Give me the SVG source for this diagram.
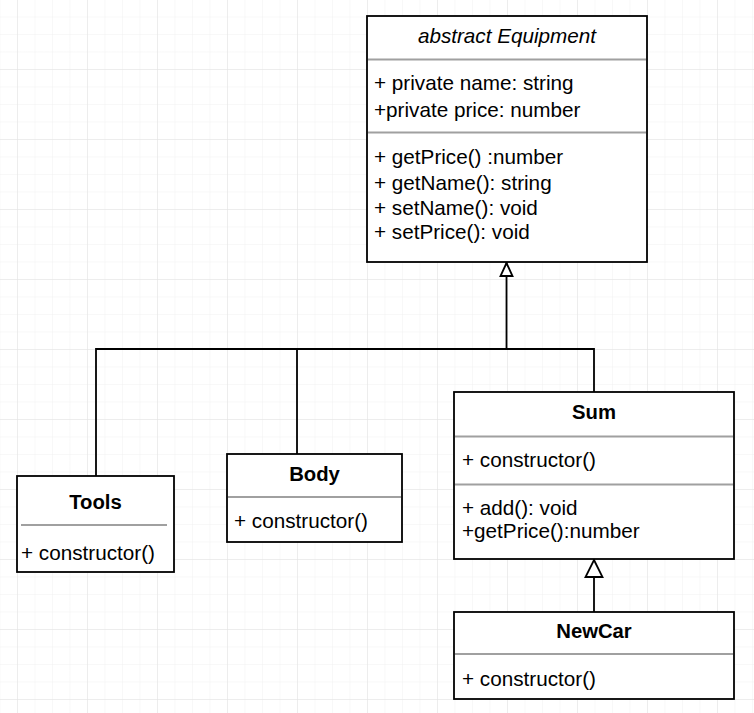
<svg xmlns="http://www.w3.org/2000/svg" width="754" height="713" viewBox="0 0 754 713">
  <defs>
    <pattern id="minor" patternUnits="userSpaceOnUse" x="17" y="-1" width="17.5" height="17.5">
      <path d="M0 0V17.5M0 0H17.5" fill="none" stroke="#f1f1f1" stroke-width="1"/>
    </pattern>
    <pattern id="major" patternUnits="userSpaceOnUse" x="17" y="-1" width="70" height="70">
      <path d="M0 0V70M0 0H70" fill="none" stroke="#e2e2e2" stroke-width="1"/>
    </pattern>
  </defs>
  <style>
    .box { fill: #fff; stroke: #000; stroke-width: 1.8; }
    .sep { stroke: #a0a0a0; stroke-width: 1.8; }
    .conn { fill: none; stroke: #000; stroke-width: 1.8; }
    .head { fill: #fff; stroke: #000; stroke-width: 1.8; stroke-linejoin: miter; }
    text { font-family: "Liberation Sans", Arial, sans-serif; font-size: 20.7px; fill: #000; }
    .title { font-weight: bold; font-size: 20.3px; text-anchor: middle; }
    .ital { font-style: italic; text-anchor: middle; }
  </style>
  <rect width="754" height="713" fill="#fff"/>
  <rect width="754" height="713" fill="url(#minor)"/>
  <rect width="754" height="713" fill="url(#major)"/>

  <g id="connectors">
    <path class="conn" d="M96 476V349H594V392"/>
    <path class="conn" d="M297 454V349"/>
    <path class="conn" d="M506.5 349V262"/>
    <path class="conn" d="M594 612V559"/>
    <path class="head" d="M506.5 263 L512.5 276 L500.5 276 Z"/>
    <path class="head" d="M594 560 L602.5 577 L585.5 577 Z"/>
  </g>

  <g id="equipment">
    <rect class="box" x="367" y="16" width="280" height="246"/>
    <line class="sep" x1="368" y1="59.5" x2="646" y2="59.5"/>
    <line class="sep" x1="368" y1="132.5" x2="646" y2="132.5"/>
    <text class="ital" x="507" y="43">abstract Equipment</text>
    <text x="374" y="90">+ private name: string</text>
    <text x="374" y="117">+private price: number</text>
    <text x="374" y="164">+ getPrice() :number</text>
    <text x="374" y="190">+ getName(): string</text>
    <text x="374" y="215">+ setName(): void</text>
    <text x="374" y="239">+ setPrice(): void</text>
  </g>

  <g id="tools">
    <rect class="box" x="17" y="476" width="157" height="96"/>
    <line class="sep" x1="21" y1="525" x2="167" y2="525"/>
    <text class="title" x="95.5" y="509">Tools</text>
    <text x="21" y="560">+ constructor()</text>
  </g>

  <g id="body">
    <rect class="box" x="227" y="454" width="175" height="88"/>
    <line class="sep" x1="228" y1="497" x2="401" y2="497"/>
    <text class="title" x="314.5" y="481">Body</text>
    <text x="234" y="528">+ constructor()</text>
  </g>

  <g id="sum">
    <rect class="box" x="454" y="392" width="280" height="167"/>
    <line class="sep" x1="455" y1="436.5" x2="733" y2="436.5"/>
    <line class="sep" x1="455" y1="484.5" x2="733" y2="484.5"/>
    <text class="title" x="594" y="419">Sum</text>
    <text x="462" y="467">+ constructor()</text>
    <text x="462" y="515">+ add(): void</text>
    <text x="462" y="538">+getPrice():number</text>
  </g>

  <g id="newcar">
    <rect class="box" x="454" y="612" width="280" height="87"/>
    <line class="sep" x1="455" y1="654" x2="733" y2="654"/>
    <text class="title" x="594" y="638">NewCar</text>
    <text x="462" y="686">+ constructor()</text>
  </g>
</svg>
